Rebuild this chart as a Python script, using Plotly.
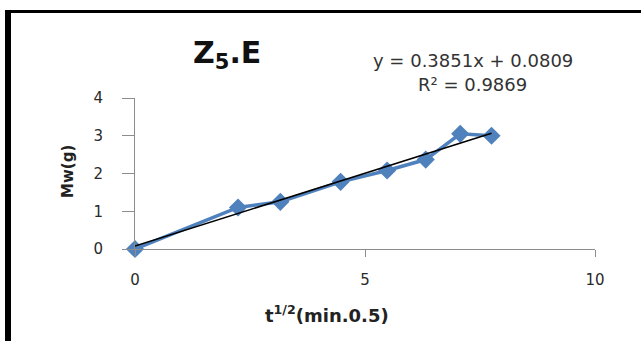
import numpy as np
import plotly.graph_objects as go

# Data (x = sqrt(t), y = Mw)
x_vals = [0.0, 2.24, 3.16, 4.47, 5.48, 6.32, 7.07, 7.75]
y_vals = [0.0, 1.1, 1.25, 1.78, 2.08, 2.37, 3.05, 3.0]
slope = 0.3851
intercept = 0.0809
x_ticks = [0, 5, 10]
y_ticks = [0, 1, 2, 3, 4]

trend_x = np.array([min(x_vals), max(x_vals)])
trend_y = slope * trend_x + intercept

W, H = 641, 341
L, R, T, B = 135, 46, 98, 92
pw, ph = W - L - R, H - T - B

def px2x(px):
    return (px - L) / pw

def py2y(py):
    return (H - B - py) / ph

fig = go.Figure()
fig.add_trace(go.Scatter(
    x=x_vals, y=y_vals, mode="lines+markers",
    line=dict(color="#4F81BD", width=3.5),
    marker=dict(symbol="diamond", size=14, color="#4F81BD"),
    showlegend=False, cliponaxis=False,
))
fig.add_trace(go.Scatter(
    x=trend_x, y=trend_y, mode="lines",
    line=dict(color="#000000", width=1.5),
    showlegend=False, cliponaxis=False,
))

axis_common = dict(
    showgrid=False, zeroline=False, showline=True,
    linecolor="#8c8c8c", linewidth=1,
    ticks="outside", tickcolor="#8c8c8c",
    tickfont=dict(family="DejaVu Sans", size=15, color="#2a2a2a"),
)
fig.update_xaxes(range=[0, 10], tickvals=x_ticks, ticklen=7, ticklabelstandoff=10, **axis_common)
fig.update_yaxes(range=[0, 4], tickvals=y_ticks, ticklen=12, ticklabelstandoff=16, **axis_common)

fig.update_layout(
    width=W, height=H,
    margin=dict(l=L, r=R, t=T, b=B),
    paper_bgcolor="white", plot_bgcolor="white",
    font=dict(family="DejaVu Sans"),
    shapes=[
        dict(type="line", xref="paper", yref="paper",
             x0=px2x(8), x1=px2x(8), y0=py2y(10), y1=py2y(345),
             line=dict(color="black", width=6)),
        dict(type="line", xref="paper", yref="paper",
             x0=px2x(5), x1=px2x(645), y0=py2y(11.5), y1=py2y(11.5),
             line=dict(color="black", width=3)),
    ],
    annotations=[
        dict(text="<b>Z<sub>5</sub>.E</b>", xref="paper", yref="paper",
             x=px2x(227), y=py2y(54), xanchor="center", yanchor="middle", showarrow=False,
             font=dict(family="DejaVu Sans", size=30, color="#111111")),
        dict(text="y = 0.3851x + 0.0809", xref="paper", yref="paper",
             x=px2x(473), y=py2y(60), xanchor="center", yanchor="middle", showarrow=False,
             font=dict(family="DejaVu Sans", size=18, color="#333333")),
        dict(text="R² = 0.9869", xref="paper", yref="paper",
             x=px2x(472), y=py2y(84), xanchor="center", yanchor="middle", showarrow=False,
             font=dict(family="DejaVu Sans", size=18, color="#333333")),
        dict(text="<b>t<sup>1/2</sup>(min.0.5)</b>", xref="paper", yref="paper",
             x=px2x(327), y=py2y(314), xanchor="center", yanchor="middle", showarrow=False,
             font=dict(family="DejaVu Sans", size=18, color="#222222")),
        dict(text="<b>Mw(g)</b>", xref="paper", yref="paper",
             x=px2x(68), y=py2y(172), xanchor="center", yanchor="middle",
             showarrow=False, textangle=-90,
             font=dict(family="DejaVu Sans", size=15, color="#222222")),
    ],
)

fig.write_html("out.html", config={"displayModeBar": False},
               post_script="document.body.style.margin='0';")
